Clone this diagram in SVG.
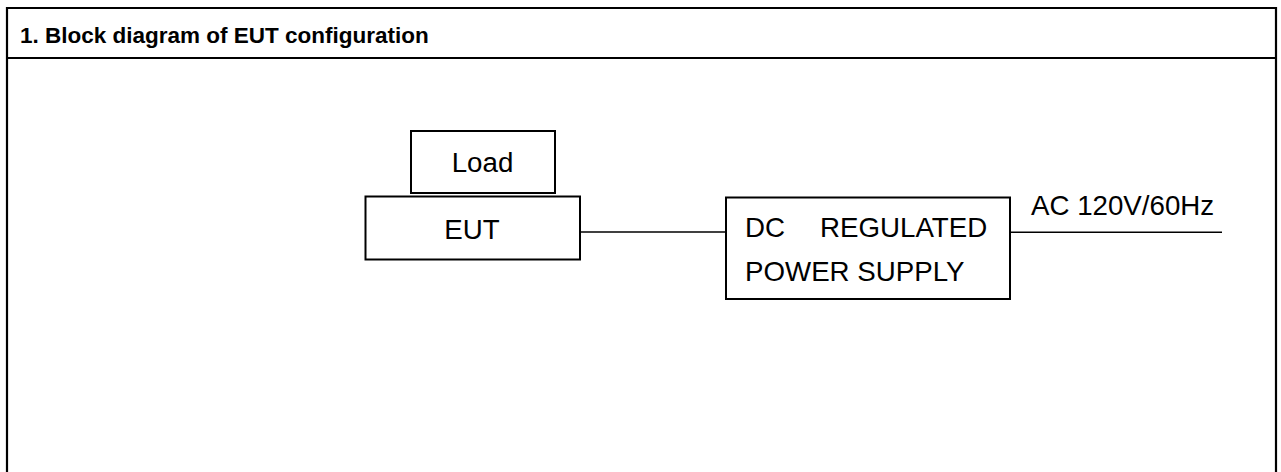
<svg xmlns="http://www.w3.org/2000/svg" width="1281" height="472" viewBox="0 0 1281 472">
<style>
.frame{fill:none;stroke:#000;stroke-width:2.2}
.box{fill:#fff;stroke:#000;stroke-width:2}
.wire{fill:none;stroke:#000;stroke-width:1.6}
.t{font-family:"Liberation Sans",Arial,sans-serif;font-size:27.7px;fill:#000}
.title{font-family:"Liberation Sans",Arial,sans-serif;font-size:22.5px;font-weight:bold;fill:#000}
</style>
<rect width="1281" height="472" fill="#fff"/>
<g id="frame">
<path class="frame" d="M7,474 V8 H1276 V474"/>
<line class="frame" x1="7" y1="58" x2="1276" y2="58"/>
<text class="title" x="20" y="42.5">1. Block diagram of EUT configuration</text>
</g>
<g id="connectors">
<line class="wire" x1="580" y1="232" x2="726" y2="232"/>
<line class="wire" x1="1010" y1="232.3" x2="1222" y2="232.3"/>
</g>
<g id="load">
<rect class="box" x="411" y="131" width="144" height="62"/>
<text class="t" x="482.5" y="172.3" text-anchor="middle">Load</text>
</g>
<g id="eut">
<rect class="box" x="365.5" y="196.5" width="214.5" height="63"/>
<text class="t" x="472" y="239" text-anchor="middle">EUT</text>
</g>
<g id="psu">
<rect class="box" x="726" y="197.5" width="284" height="101.5"/>
<text class="t" x="745" y="236.7">DC<tspan x="820">REGULATED</tspan></text>
<text class="t" x="745" y="280.7">POWER SUPPLY</text>
</g>
<g id="ac">
<text class="t" x="1031" y="215">AC 120V/60Hz</text>
</g>
</svg>
